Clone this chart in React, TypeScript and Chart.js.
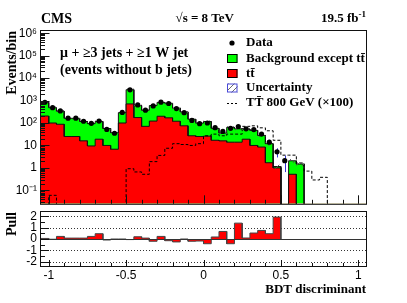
import { useEffect, useRef } from "react";
import { Chart, registerables } from "chart.js";

Chart.register(...registerables);

// ---------------- data ----------------
const binEdges = [
  -1.05, -1.0, -0.95, -0.9, -0.85, -0.8, -0.75, -0.7, -0.65, -0.6,
  -0.55, -0.5, -0.45, -0.4, -0.35, -0.3, -0.25, -0.2, -0.15, -0.1,
  -0.05, 0, 0.05, 0.1, 0.15, 0.2, 0.25, 0.3, 0.35, 0.4,
  0.45, 0.5, 0.55, 0.6, 0.65, 0.7, 0.75, 0.8, 0.85, 0.9,
  0.95, 1.0, 1.05,
];

const ttbarValues = [
  205, 100, 88, 25, 25, 16, 9.5, 19, 10, 6.8,
  100, 710, 175, 71, 122, 200, 170, 120, 75, 27,
  25, 26, 17, 16, 14, 14, 19, 10, 8.5, 1.7,
  1.0, 0, 0.52, 0, 0, 0, 0, 0, 0, 0,
  0, 0,
];

const otherBkgValues = [
  625, 380, 247, 137, 137, 101, 84.5, 98, 47, 30.2,
  190, 2340, 425, 299, 478, 630, 590, 340, 238, 121,
  74, 91, 41, 20, 50, 41, 35, 37, 19.5, 10.3,
  0.15, 0, 1.55, 1.48, 0, 0, 0, 0, 0, 0,
  0, 0,
];

const dataValues = [
  840, 480, 345, 165, 165, 120, 97, 122, 52, 35,
  295, 3000, 640, 375, 580, 850, 740, 440, 290, 130,
  93, 100, 62, 42, 58, 70, 55, 51, 32, 14,
  5.2, 2.1, 0, 0, 0, 0, 0, 0, 0, 0,
  0, 0,
];

const signalValues = [
  0, 0.06, 0, 0, 0, 0, 0, 0, 0, 0,
  0, 0.92, 0.66, 0.52, 1.9, 3.6, 7.5, 12, 11, 10,
  12, 27, 32, 27, 32, 32, 71, 75, 61, 45,
  17, 3.7, 3.7, 1.66, 0.72, 0.29, 0.38, 0, 0, 0,
  0, 0,
];

const uncertaintyRel = [
  0.12, 0.12, 0.12, 0.12, 0.12, 0.12, 0.12, 0.12, 0.12, 0.12,
  0.12, 0.12, 0.12, 0.12, 0.12, 0.12, 0.12, 0.12, 0.12, 0.12,
  0.12, 0.12, 0.12, 0.13, 0.13, 0.13, 0.13, 0.14, 0.15, 0.18,
  0.2, 0, 0.2, 0.2, 0, 0, 0, 0, 0, 0,
  0, 0,
];

const pullValues: (number | null)[] = [
  0.05, -0.02, 0.23, 0.08, 0.08, 0.08, 0.23, 0.47, -0.09, 0.0,
  0.0, -0.05, 0.2, 0.08, -0.2, 0.23, -0.15, -0.26, 0.0, -0.2,
  -0.18, -0.42, 0.18, 0.67, -0.42, 1.41, 0.09, 0.53, 0.76, 0.47,
  1.95, null, null, null, null, null, null, null, null, null,
  null, null,
];

const xTickValues = [-1, -0.5, 0, 0.5, 1];
const xTickLabels = ["-1", "-0.5", "0", "0.5", "1"];
const yTickValues = [0.1, 1, 10, 100, 1000, 10000, 100000, 1000000];
const yTickLabels = ["10\u207B\u00B9", "1", "10", "10\u00B2", "10\u00B3", "10\u2074", "10\u2075", "10\u2076"];
const pullTickValues = [-2, -1, 0, 1, 2];
const pullTickLabels = ["-2", "-1", "0", "1", "2"];

const legendLabels = [
  "Data",
  "Background except tt\u0304",
  "tt\u0304",
  "Uncertainty",
  "TT\u0304 800 GeV (\u00D7100)",
];

// ---------------- style ----------------
const SERIF = '"Liberation Serif", "Times New Roman", Times, serif';
const SANS = '"Liberation Sans", Arial, Helvetica, sans-serif';
const Y_MIN = Math.pow(10, -1.6);
const Y_MAX = Math.pow(10, 6.1);
const FLOOR = 1e-6;
const X_MIN = -1.05;
const X_MAX = 1.05;

function histPoints(values: number[]) {
  const pts: { x: number; y: number }[] = [];
  values.forEach((v, i) => {
    const y = v > 0 ? v : FLOOR;
    pts.push({ x: binEdges[i], y }, { x: binEdges[i + 1], y });
  });
  return pts;
}

function makeHatch(ctx: CanvasRenderingContext2D) {
  const c = document.createElement("canvas");
  c.width = 6;
  c.height = 6;
  const g = c.getContext("2d")!;
  g.strokeStyle = "#555";
  g.lineWidth = 0.9;
  g.beginPath();
  g.moveTo(0, 6);
  g.lineTo(6, 0);
  g.moveTo(-1, 1);
  g.lineTo(1, -1);
  g.moveTo(5, 7);
  g.lineTo(7, 5);
  g.stroke();
  return ctx.createPattern(c, "repeat")!;
}

export default function App() {
  const mainRef = useRef<HTMLCanvasElement>(null);
  const pullRef = useRef<HTMLCanvasElement>(null);

  useEffect(() => {
    const mainCanvas = mainRef.current!;
    const pullCanvas = pullRef.current!;
    const mctx = mainCanvas.getContext("2d")!;
    const hatch = makeHatch(mctx);

    const centers = binEdges.slice(0, -1).map((e, i) => (e + binEdges[i + 1]) / 2);
    const totalValues = ttbarValues.map((v, i) => v + otherBkgValues[i]);
    const upperValues = totalValues.map((v, i) => v * (1 + uncertaintyRel[i]));
    const lowerValues = totalValues.map((v, i) => v * (1 - uncertaintyRel[i]));
    const dataPoints = dataValues
      .map((v, i) => ({ x: centers[i], y: v }))
      .filter((p) => p.y > 0);

    const mainPlugin = {
      id: "mainDeco",
      beforeDatasetDraw(chart: any, args: any) {
        if (args.index !== 0) return;
        const { ctx, chartArea: a } = chart;
        const x = chart.scales.x;
        const y = chart.scales.y;
        ctx.save();
        ctx.beginPath();
        ctx.rect(a.left, a.top, a.right - a.left, a.bottom - a.top);
        ctx.clip();
        ctx.strokeStyle = "#3434d0";
        ctx.lineWidth = 1;
        ctx.beginPath();
        dataValues.forEach((v, i) => {
          if (v <= 0) return;
          const e = Math.sqrt(v);
          const px = Math.round(x.getPixelForValue(centers[i])) + 0.5;
          ctx.moveTo(px, y.getPixelForValue(v + e));
          ctx.lineTo(px, y.getPixelForValue(Math.max(v - e, FLOOR)));
        });
        ctx.stroke();
        ctx.restore();
      },
      afterDraw(chart: any) {
        const { ctx, chartArea: a } = chart;
        const x = chart.scales.x;
        const y = chart.scales.y;
        ctx.save();
        // frame
        ctx.strokeStyle = "#111";
        ctx.lineWidth = 1;
        ctx.strokeRect(a.left - 0.5, a.top - 0.5, a.right - a.left + 1, a.bottom - a.top + 1);
        // ticks
        ctx.beginPath();
        for (let k = -10; k <= 10; k++) {
          const px = Math.round(x.getPixelForValue(k / 10)) + 0.5;
          const len = k % 5 === 0 ? 8.5 : 4;
          ctx.moveTo(px, a.bottom);
          ctx.lineTo(px, a.bottom - len);
        }
        for (let d = -2; d <= 6; d++) {
          for (let m = 1; m <= 9; m++) {
            const v = m * Math.pow(10, d);
            if (v < Y_MIN || v > Y_MAX) continue;
            const py = Math.round(y.getPixelForValue(v)) + 0.5;
            const len = m === 1 ? 8.5 : 4;
            ctx.moveTo(a.left, py);
            ctx.lineTo(a.left + len, py);
          }
        }
        ctx.stroke();

        // header texts
        ctx.fillStyle = "#000";
        ctx.textBaseline = "middle";
        ctx.font = `bold 14px ${SERIF}`;
        ctx.textAlign = "left";
        ctx.fillText("CMS", 41, 19);
        ctx.font = `bold 13px ${SERIF}`;
        ctx.textAlign = "right";
        ctx.fillText("\u221As = 8 TeV", 234, 19);
        ctx.font = `bold 9px ${SERIF}`;
        const supW = ctx.measureText("-1").width;
        ctx.fillText("-1", 366, 15);
        ctx.font = `bold 13px ${SERIF}`;
        ctx.fillText("19.5 fb", 366 - supW, 19);

        // region label
        ctx.textAlign = "left";
        ctx.font = `bold 14px ${SERIF}`;
        ctx.fillText("\u03BC + \u22653 jets + \u22651 W jet", 60, 53);
        ctx.fillText("(events without b jets)", 60, 70);

        // legend
        const rows = [43, 58.5, 73.5, 88, 103];
        const bx = 227;
        const bw = 10.5;
        const bh = 9;
        ctx.fillStyle = "#000";
        ctx.beginPath();
        ctx.arc(232, rows[0], 2.6, 0, Math.PI * 2);
        ctx.fill();
        ctx.lineWidth = 1;
        ctx.fillStyle = "#00ff00";
        ctx.fillRect(bx, rows[1] - bh / 2, bw, bh);
        ctx.strokeStyle = "#000";
        ctx.strokeRect(bx + 0.5, rows[1] - bh / 2 + 0.5, bw - 1, bh - 1);
        ctx.fillStyle = "#ff0000";
        ctx.fillRect(bx, rows[2] - bh / 2, bw, bh);
        ctx.strokeRect(bx + 0.5, rows[2] - bh / 2 + 0.5, bw - 1, bh - 1);
        ctx.fillStyle = hatch;
        ctx.fillRect(bx, rows[3] - bh / 2, bw, bh);
        ctx.strokeStyle = "#4a4ad8";
        ctx.strokeRect(bx + 0.5, rows[3] - bh / 2 + 0.5, bw - 1, bh - 1);
        ctx.strokeStyle = "#000";
        ctx.setLineDash([2, 2]);
        ctx.beginPath();
        ctx.moveTo(bx, Math.round(rows[4]) + 0.5);
        ctx.lineTo(bx + 12, Math.round(rows[4]) + 0.5);
        ctx.stroke();
        ctx.setLineDash([]);
        ctx.fillStyle = "#000";
        ctx.font = `bold 13px ${SERIF}`;
        ctx.textAlign = "left";
        legendLabels.forEach((t, i) => ctx.fillText(t, 246, rows[i]));
        ctx.restore();
      },
    };

    const mainChart = new Chart(mainCanvas, {
      type: "line",
      data: {
        datasets: [
          {
            label: "Data",
            data: dataPoints,
            showLine: false,
            pointRadius: 2.6,
            pointBorderWidth: 0,
            pointBackgroundColor: "#000",
            pointStyle: "circle",
          },
          {
            label: "unc-up",
            data: histPoints(upperValues),
            borderWidth: 0,
            borderColor: "rgba(0,0,0,0)",
            pointRadius: 0,
            fill: 2,
            backgroundColor: hatch,
          },
          {
            label: "unc-down",
            data: histPoints(lowerValues),
            borderWidth: 0,
            borderColor: "rgba(0,0,0,0)",
            pointRadius: 0,
            fill: false,
          },
          {
            label: "signal",
            data: histPoints(signalValues),
            borderWidth: 1,
            borderColor: "#000",
            borderDash: [3, 2],
            pointRadius: 0,
            fill: false,
          },
          {
            label: "ttbar",
            data: histPoints(ttbarValues),
            borderWidth: 1,
            borderColor: "#111",
            backgroundColor: "#ff0000",
            pointRadius: 0,
            fill: "start",
          },
          {
            label: "other",
            data: histPoints(totalValues),
            borderWidth: 1,
            borderColor: "#111",
            backgroundColor: "#00ff00",
            pointRadius: 0,
            fill: "start",
          },
        ] as any,
      },
      options: {
        animation: false,
        responsive: false,
        devicePixelRatio: 1,
        events: [],
        layout: { padding: { top: 31, left: 0, right: 41, bottom: 3 } },
        elements: { line: { tension: 0 } },
        plugins: { legend: { display: false }, tooltip: { enabled: false }, title: { display: false } },
        scales: {
          x: { type: "linear", min: X_MIN, max: X_MAX, display: false },
          y: {
            type: "logarithmic",
            min: Y_MIN,
            max: Y_MAX,
            afterFit: (s: any) => {
              s.width = 41;
            },
            afterBuildTicks: (s: any) => {
              s.ticks = yTickValues.map((v) => ({ value: v }));
            },
            ticks: {
              autoSkip: false,
              padding: 4,
              color: "#000",
              font: { family: SANS, size: 12 },
              callback: (_v: any, i: number) => yTickLabels[i],
            },
            grid: { display: false, drawTicks: false },
            border: { display: false },
            title: {
              display: true,
              text: "Events/bin",
              align: "end",
              color: "#000",
              font: { family: SERIF, size: 14, weight: "bold" },
              padding: { top: 4, bottom: 4 },
            },
          },
        },
      } as any,
      plugins: [mainPlugin],
    });

    // ---------------- pull panel ----------------
    const pullPts: { x: number; y: number }[] = [];
    let lastEdge = 0;
    pullValues.forEach((v, i) => {
      if (v === null) return;
      if (pullPts.length === 0) pullPts.push({ x: binEdges[i], y: 0 });
      pullPts.push({ x: binEdges[i], y: v }, { x: binEdges[i + 1], y: v });
      lastEdge = binEdges[i + 1];
    });
    pullPts.push({ x: lastEdge, y: 0 });

    const pullPlugin = {
      id: "pullDeco",
      beforeDatasetsDraw(chart: any) {
        const { ctx, chartArea: a } = chart;
        const y = chart.scales.y;
        ctx.save();
        ctx.lineWidth = 1;
        ctx.strokeStyle = "#333";
        ctx.setLineDash([1, 2]);
        [-2, -1, 1, 2].forEach((v) => {
          const py = Math.round(y.getPixelForValue(v)) + 0.5;
          ctx.beginPath();
          ctx.moveTo(a.left, py);
          ctx.lineTo(a.right, py);
          ctx.stroke();
        });
        ctx.setLineDash([]);
        ctx.restore();
      },
      afterDraw(chart: any) {
        const { ctx, chartArea: a } = chart;
        const x = chart.scales.x;
        const y = chart.scales.y;
        ctx.save();
        ctx.lineWidth = 1;
        ctx.strokeStyle = "#333";
        const p0 = Math.round(y.getPixelForValue(0)) + 0.5;
        ctx.beginPath();
        ctx.moveTo(a.left, p0);
        ctx.lineTo(a.right, p0);
        ctx.stroke();
        ctx.strokeStyle = "#111";
        ctx.strokeRect(a.left - 0.5, a.top - 0.5, a.right - a.left + 1, a.bottom - a.top + 1);
        ctx.beginPath();
        for (let k = -10; k <= 10; k++) {
          const px = Math.round(x.getPixelForValue(k / 10)) + 0.5;
          const len = k % 5 === 0 ? 6 : 3;
          ctx.moveTo(px, a.bottom);
          ctx.lineTo(px, a.bottom - len);
        }
        for (let k = -4; k <= 4; k++) {
          const py = Math.round(y.getPixelForValue(k / 2)) + 0.5;
          const len = k % 2 === 0 ? 8 : 4;
          ctx.moveTo(a.left, py);
          ctx.lineTo(a.left + len, py);
        }
        ctx.stroke();
        ctx.restore();
      },
    };

    const pullChart = new Chart(pullCanvas, {
      type: "line",
      data: {
        datasets: [
          {
            label: "pull",
            data: pullPts,
            borderWidth: 1,
            borderColor: "#444",
            backgroundColor: "#ff0000",
            pointRadius: 0,
            fill: "origin",
          },
        ] as any,
      },
      options: {
        animation: false,
        responsive: false,
        devicePixelRatio: 1,
        events: [],
        layout: { padding: { top: 12, left: 0, right: 41, bottom: 2 } },
        elements: { line: { tension: 0 } },
        plugins: { legend: { display: false }, tooltip: { enabled: false } },
        scales: {
          x: {
            type: "linear",
            min: X_MIN,
            max: X_MAX,
            position: "bottom",
            afterFit: (s: any) => {
              s.height = 35;
            },
            afterBuildTicks: (s: any) => {
              s.ticks = xTickValues.map((v) => ({ value: v }));
            },
            ticks: {
              autoSkip: false,
              maxRotation: 0,
              padding: 2,
              color: "#000",
              font: { family: SANS, size: 12 },
              callback: (_v: any, i: number) => xTickLabels[i],
            },
            grid: { display: false, drawTicks: false },
            border: { display: false },
            title: {
              display: true,
              text: "BDT discriminant",
              align: "end",
              color: "#000",
              font: { family: SERIF, size: 13, weight: "bold" },
              padding: { top: 0, bottom: 4 },
            },
          },
          y: {
            type: "linear",
            min: -2.4,
            max: 2.4,
            afterFit: (s: any) => {
              s.width = 41;
            },
            afterBuildTicks: (s: any) => {
              s.ticks = pullTickValues.map((v) => ({ value: v }));
            },
            ticks: {
              autoSkip: false,
              padding: 4,
              color: "#000",
              font: { family: SANS, size: 12 },
              callback: (_v: any, i: number) => pullTickLabels[i],
            },
            grid: { display: false, drawTicks: false },
            border: { display: false },
            title: {
              display: true,
              text: "Pull",
              align: "end",
              color: "#000",
              font: { family: SERIF, size: 14, weight: "bold" },
              padding: { top: 4, bottom: 4 },
            },
          },
        },
      } as any,
      plugins: [pullPlugin],
    });

    return () => {
      mainChart.destroy();
      pullChart.destroy();
    };
  }, []);

  return (
    <div style={{ position: "absolute", left: 0, top: 0, width: 407, height: 303, background: "#fff", overflow: "hidden" }}>
      <canvas ref={mainRef} width={407} height={215} style={{ position: "absolute", left: 0, top: 0 }} />
      <canvas ref={pullRef} width={407} height={103} style={{ position: "absolute", left: 0, top: 200 }} />
    </div>
  );
}
